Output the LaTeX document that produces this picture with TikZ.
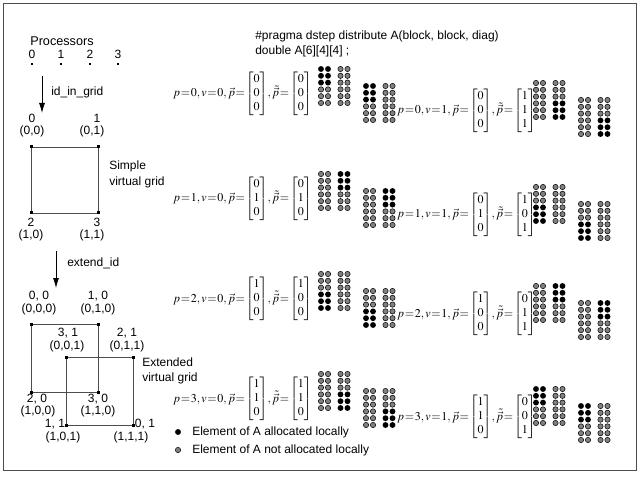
\documentclass[tikz,border=0pt]{standalone}
\usepackage{amsmath}
\usepackage{mathptmx}
\usepackage[no-math]{fontspec}
\setmainfont{Liberation Sans}
\usetikzlibrary{arrows.meta}

% tight equals sign
\newcommand{\tighteq}{\mkern-3mu=\mkern-3mu}
% one line of p, v and the two vectors
\newcommand{\peq}[4]{\fontsize{9}{11}\selectfont$\renewcommand{\arraystretch}{0.96}%
\setlength{\arraycolsep}{1.8pt}%
p\tighteq#1,v\tighteq#2,\vec{p}\tighteq\begin{bmatrix}#3\end{bmatrix}\!,%
\tilde{\vec{p}}\tighteq\begin{bmatrix}#4\end{bmatrix}$}

% 6x4 dots, #1 #2 = first dot, #3 #4 = which half is local
\newcommand{\dotgrid}[4]{%
  \foreach \r in {0,...,5}{%
    \foreach \c in {0,...,3}{%
      \pgfmathtruncatemacro{\rh}{int(\r/3)}%
      \pgfmathtruncatemacro{\ch}{int(\c/2)}%
      \pgfmathtruncatemacro{\isblack}{and(\rh==#3,\ch==#4)}%
      \pgfmathsetmacro{\dx}{\c*7+\ch*5.5}%
      \ifnum\isblack=1
        \path[blackdot] (#1+\dx,#2+\r*6.8) circle (2.2pt);
      \else
        \path[graydot] (#1+\dx,#2+\r*6.8) circle (2pt);
      \fi
    }}}

\begin{document}
\begin{tikzpicture}[x=0.75pt,y=-0.75pt]
\tikzstyle{lbl}=[inner sep=0pt,font=\fontsize{9}{11}\selectfont]
\tikzstyle{gridline}=[draw=black!70,line width=0.6pt]
\tikzstyle{blackdot}=[fill=black]
\tikzstyle{graydot}=[fill=black!50,draw=black,line width=0.4pt]
\tikzstyle{arr}=[-{Latex[length=7.5pt,width=4.5pt]},line width=0.6pt]
\useasboundingbox (0,0) rectangle (639,481);
\draw[black!70,line width=0.6pt] (3,3) rectangle (636,470);

% processors
\node[lbl,font=\fontsize{9.5}{11}\selectfont] (procs) at (62,41) {Processors};
\node[lbl] (pr0) at (32,54) {0};
\node[lbl] (pr1) at (61,54) {1};
\node[lbl] (pr2) at (90,54) {2};
\node[lbl] (pr3) at (118,54) {3};
\foreach \x in {32,61,90,118}
  \fill (\x-1.3,62.7) rectangle (\x+1.3,65.3);

\coordinate (a1top) at (42,76);
\coordinate (a1bot) at (42,113);
\draw[arr] (a1top) -- (a1bot);
\node[lbl,anchor=west] (idgrid) at (51,92) {id\_in\_grid};

% simple virtual grid
\node[lbl] (s0) at (32,118) {0};
\node[lbl] (s0c) at (32,131) {(0,0)};
\node[lbl] (s1) at (97,118) {1};
\node[lbl] (s1c) at (92,131) {(0,1)};
\coordinate (g00) at (31,147);
\coordinate (g01) at (98,147);
\coordinate (g10) at (31,213);
\coordinate (g11) at (98,213);
\draw[gridline] (g00) -- (g01) -- (g11) -- (g10) -- cycle;
\foreach \n in {g00,g01,g10,g11}
  \fill (\n) +(-1.5,-1.5) rectangle +(1.5,1.5);
\node[lbl,anchor=west] (simp) at (109,166) {Simple};
\node[lbl,anchor=west] (simpv) at (109,182) {virtual grid};
\node[lbl] (s2) at (31,222) {2};
\node[lbl] (s2c) at (31,235) {(1,0)};
\node[lbl] (s3) at (97,222) {3};
\node[lbl] (s3c) at (92,235) {(1,1)};

\coordinate (a2top) at (56,251);
\coordinate (a2bot) at (56,288);
\draw[arr] (a2top) -- (a2bot);
\node[lbl,anchor=west] (extid) at (67,263) {extend\_id};

% extended virtual grid
\node[lbl] (e00) at (39,296) {0, 0};
\node[lbl] (e00c) at (39,309) {(0,0,0)};
\node[lbl] (e10) at (98,296) {1, 0};
\node[lbl] (e10c) at (98,309) {(0,1,0)};
\coordinate (h00) at (31,324);
\coordinate (h01) at (98,324);
\coordinate (h10) at (31,392);
\coordinate (h11) at (98,392);
\draw[gridline] (h00) -- (h01) -- (h11) -- (h10) -- cycle;
\node[lbl] (e31) at (68,333) {3, 1};
\node[lbl] (e31c) at (67,346) {(0,0,1)};
\node[lbl] (e21) at (127,333) {2, 1};
\node[lbl] (e21c) at (127,346) {(0,1,1)};
\coordinate (k00) at (66,357);
\coordinate (k01) at (133,357);
\coordinate (k10) at (66,425);
\coordinate (k11) at (133,425);
\draw[gridline] (k00) -- (k01) -- (k11) -- (k10) -- cycle;
\foreach \n in {h00,h01,h10,h11,k00,k01,k10,k11}
  \fill (\n) +(-1.5,-1.5) rectangle +(1.5,1.5);
\node[lbl,anchor=west] (ext) at (142,362) {Extended};
\node[lbl,anchor=west] (extv) at (142,378) {virtual grid};
\node[lbl] (e20) at (37,399) {2, 0};
\node[lbl] (e20c) at (38,411) {(1,0,0)};
\node[lbl] (e30) at (98,399) {3, 0};
\node[lbl] (e30c) at (98,411) {(1,1,0)};
\node[lbl] (e11) at (55,424) {1, 1};
\node[lbl] (e11c) at (63,437) {(1,0,1)};
\node[lbl] (e01) at (145,424) {0, 1};
\node[lbl] (e01c) at (131,437) {(1,1,1)};

% declaration
\node[lbl,anchor=west] (prag) at (255,36) {\#pragma dstep distribute A(block, block, diag)};
\node[lbl,anchor=west] (decl) at (255,51) {double A[6][4][4] ;};

% v = 0
\node[lbl,anchor=west] (eq00) at (173,94) {\peq{0}{0}{0\\0\\0}{0\\0\\0}};
\node[lbl,anchor=west] (eq10) at (173,199) {\peq{1}{0}{0\\1\\0}{0\\1\\0}};
\node[lbl,anchor=west] (eq20) at (173,299) {\peq{2}{0}{1\\0\\0}{1\\0\\0}};
\node[lbl,anchor=west] (eq30) at (173,399) {\peq{3}{0}{1\\1\\0}{1\\1\\0}};
\dotgrid{321}{69}{0}{0}  \dotgrid{366}{86}{0}{0}
\dotgrid{321}{174}{0}{1} \dotgrid{366}{191}{0}{1}
\dotgrid{321}{274}{1}{0} \dotgrid{366}{291}{1}{0}
\dotgrid{321}{374}{1}{1} \dotgrid{366}{391}{1}{1}

% v = 1
\node[lbl,anchor=west] (eq01) at (397,111) {\peq{0}{1}{0\\0\\0}{1\\1\\1}};
\node[lbl,anchor=west] (eq11) at (397,215) {\peq{1}{1}{0\\1\\0}{1\\0\\1}};
\node[lbl,anchor=west] (eq21) at (397,314) {\peq{2}{1}{1\\0\\0}{0\\1\\1}};
\node[lbl,anchor=west] (eq31) at (397,417) {\peq{3}{1}{1\\1\\0}{0\\0\\1}};
\dotgrid{536}{83}{1}{1}  \dotgrid{581}{100}{1}{1}
\dotgrid{536}{187}{1}{0} \dotgrid{581}{204}{1}{0}
\dotgrid{536}{286}{0}{1} \dotgrid{581}{303}{0}{1}
\dotgrid{536}{389}{0}{0} \dotgrid{581}{406}{0}{0}

% legend
\path[blackdot] (178,432) circle (2.2pt);
\node[lbl,anchor=west] (leg1) at (192,432) {Element of A allocated locally};
\path[graydot] (178,450) circle (2pt);
\node[lbl,anchor=west] (leg2) at (192,450) {Element of A not allocated locally};
\end{tikzpicture}
\end{document}
